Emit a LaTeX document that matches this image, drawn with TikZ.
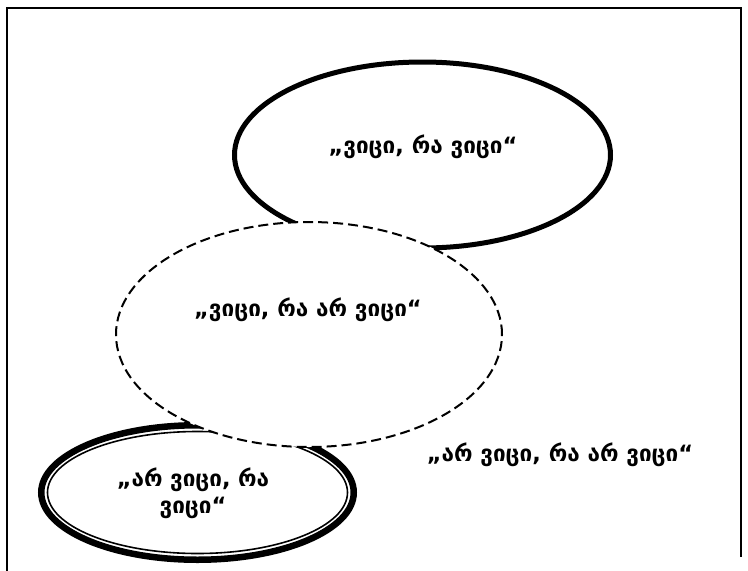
\documentclass[tikz,border=0pt]{standalone}
\usepackage{fontspec}
\setmainfont{DejaVu Sans}
\usetikzlibrary{shapes.geometric}
\tikzset{
  lbl/.style={font=\bfseries\fontsize{22.5}{27}\selectfont, align=center, inner sep=0pt},
  ovl/.style={ellipse, inner sep=0pt, outer sep=0pt},
}
\begin{document}
\begin{tikzpicture}[x=1pt,y=-1pt]
\useasboundingbox (0,0) rectangle (748,571);
% frame
\coordinate (fbl) at (7,571);
\coordinate (ftl) at (7,7.5);
\coordinate (ftr) at (741,7.5);
\coordinate (fbr) at (741,557);
\draw[line width=2pt] (fbl) -- (ftl) -- (ftr) -- (fbr);
% top ellipse
\node[ovl, draw, line width=5pt, minimum width=376pt, minimum height=186pt] (know) at (422.5,155) {};
% bottom double ellipse
\node[ovl, draw, line width=6.5pt, fill=white, minimum width=312.5pt, minimum height=134.5pt] (dontknowknow) at (197.5,492.5) {};
\node[ovl, draw, line width=1.6pt, minimum width=300pt, minimum height=122pt] (inner) at (197.5,492.5) {};
% dashed ellipse
\node[ovl, draw, fill=white, line width=2pt, dash pattern=on 10pt off 5pt, minimum width=386pt, minimum height=225pt] (knownot) at (309,334.5) {};
% texts
\node[lbl] (t1) at (423,147) {„ვიცი, რა ვიცი“};
\node[lbl] (t2) at (308,310) {„ვიცი, რა არ ვიცი“};
\node[lbl, text width=240pt] (t3) at (193,493) {„არ ვიცი, რა\\ვიცი“};
\node[lbl] (t4) at (560,455) {„არ ვიცი, რა არ ვიცი“};
\end{tikzpicture}
\end{document}
